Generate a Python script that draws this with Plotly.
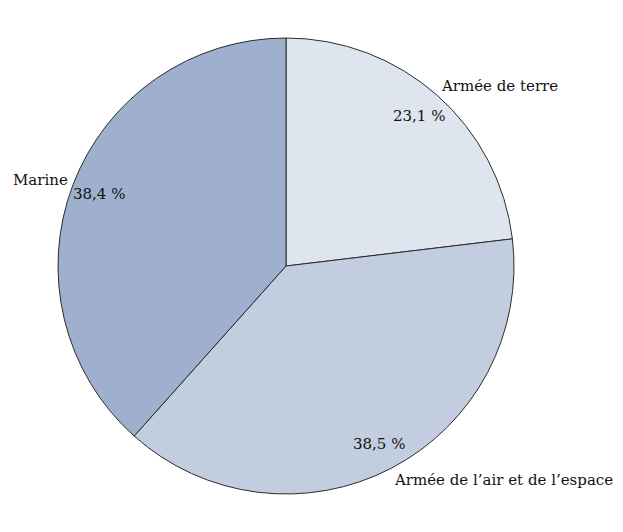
import math
import plotly.graph_objects as go

categories = ["Armée de terre", "Armée de l\u2019air et de l\u2019espace", "Marine"]
values = [23.1, 38.5, 38.4]
pct_labels = ["23,1 %", "38,5 %", "38,4 %"]
colors = ["#dfe5ef", "#c3cde0", "#9eb0cd"]

W, H = 623, 532
CX, CY, R = 286, 266, 228  # pixel geometry of the pie
LABEL_H = 18

fig = go.Figure(go.Pie(
    labels=categories,
    values=values,
    sort=False,
    direction="clockwise",
    rotation=0,
    textinfo="none",
    hoverinfo="label+percent",
    marker=dict(colors=colors, line=dict(color="#2b2b2b", width=1)),
    domain=dict(x=[(CX - R) / W, (CX + R) / W], y=[(H - CY - R) / H, (H - CY + R) / H]),
    showlegend=False,
))

font = dict(family="DejaVu Serif, serif", size=15, color="#111111")
total = sum(values)
cum = 0.0
annotations = []
for name, v, pl in zip(categories, values, pct_labels):
    mid = (cum + v / 2) / total * 2 * math.pi
    cum += v
    s, c = math.sin(mid), math.cos(mid)
    # percentage inside near the rim
    px, py = CX + 0.88 * R * s, CY - 0.88 * R * c
    annotations.append(dict(x=px / W, y=1 - py / H, xref="paper", yref="paper",
                            text=pl, showarrow=False, font=font, borderpad=0,
                            xanchor="center", yanchor="middle"))
    # category name outside, just off the rim
    lx, ly = CX + 1.017 * R * s, CY - 1.017 * R * c
    annotations.append(dict(x=lx / W, y=1 - ly / H, xref="paper", yref="paper",
                            text=name, showarrow=False, font=font, borderpad=0,
                            xanchor="left" if s >= 0 else "right",
                            yanchor="middle", yshift=c * LABEL_H / 2))

fig.update_layout(
    width=W, height=H,
    margin=dict(l=0, r=0, t=0, b=0),
    paper_bgcolor="white",
    plot_bgcolor="white",
    annotations=annotations,
)

fig.write_html("out.html", config={"displayModeBar": False},
               post_script="document.body.style.margin='0';document.body.style.overflow='hidden';")
